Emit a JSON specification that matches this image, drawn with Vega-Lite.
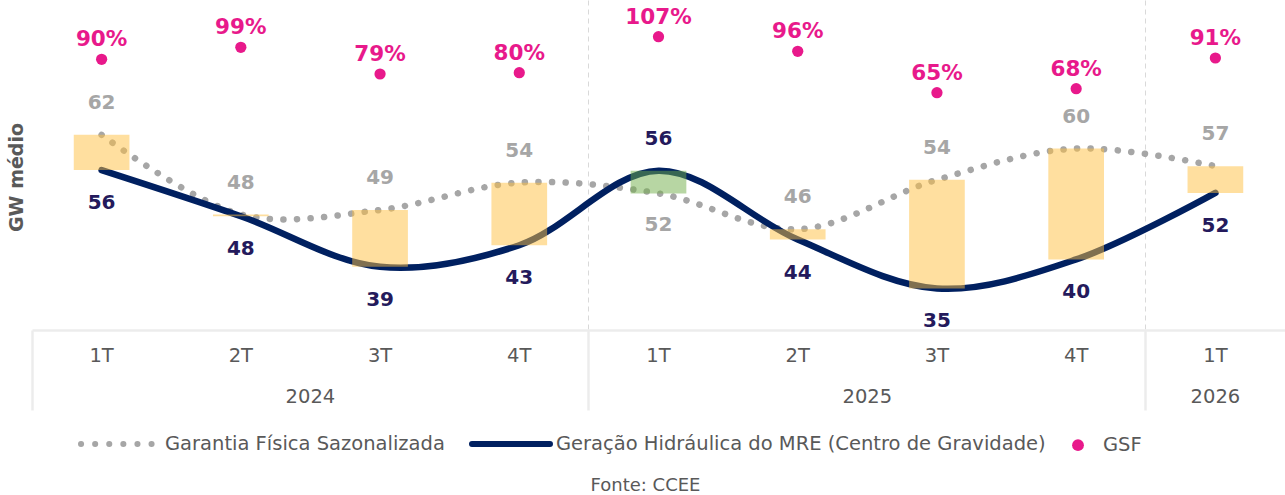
{
  "$schema": "https://vega.github.io/schema/vega-lite/v6.json",
  "width": 1253,
  "height": 330,
  "autosize": {"type": "none"},
  "padding": {"left": 32, "top": 0, "right": 0, "bottom": 165},
  "background": "white",
  "config": {"view": {"stroke": null}, "font": "DejaVu Sans"},
  "title": {"text": "Fonte: CCEE", "orient": "bottom", "anchor": "middle", "frame": "group", "offset": 21, "dx": -13, "font": "DejaVu Sans", "fontSize": 18, "fontWeight": "normal", "color": "#595959"},
  "data": {"values": [
    {"periodo": "2024-1T", "gf": 62.3, "ger": 56.1, "gsf": 0.90},
    {"periodo": "2024-2T", "gf": 48.3, "ger": 48.0, "gsf": 0.99},
    {"periodo": "2024-3T", "gf": 49.1, "ger": 39.1, "gsf": 0.79},
    {"periodo": "2024-4T", "gf": 53.9, "ger": 42.9, "gsf": 0.80},
    {"periodo": "2025-1T", "gf": 52.0, "ger": 56.0, "gsf": 1.07},
    {"periodo": "2025-2T", "gf": 45.7, "ger": 43.9, "gsf": 0.96},
    {"periodo": "2025-3T", "gf": 54.4, "ger": 35.3, "gsf": 0.65},
    {"periodo": "2025-4T", "gf": 59.9, "ger": 40.4, "gsf": 0.68},
    {"periodo": "2026-1T", "gf": 56.8, "ger": 52.1, "gsf": 0.91}
  ]},
  "resolve": {"scale": {"y": "independent"}, "axis": {"x": "independent"}},
  "layer": [
    {
      "layer": [
        {
          "mark": {"type": "line", "interpolate": "catmull-rom", "strokeWidth": 6.5, "strokeDash": [0.1, 13.5], "strokeCap": "round"},
          "encoding": {
            "x": {"field": "periodo", "type": "nominal", "scale": {"type": "band", "paddingInner": 0, "paddingOuter": 0},
              "axis": {"orient": "bottom", "title": null, "labelExpr": "split(datum.value, '-')[1]", "labelAngle": 0, "ticks": false, "tickSize": 0, "grid": false, "domain": true, "domainColor": "#ececec", "domainWidth": 2.5, "labelPadding": 16, "labelFontSize": 19.5, "labelColor": "#595959", "labelFont": "DejaVu Sans"}},
            "y": {"field": "gf", "type": "quantitative", "scale": {"domain": [28, 86], "nice": false, "zero": false},
              "axis": {"title": "GW médio", "titleFont": "DejaVu Sans", "titleFontSize": 19, "titleFontWeight": "bold", "titleColor": "#595959", "labels": false, "ticks": false, "domain": false, "grid": false, "titlePadding": 6, "minExtent": 0, "maxExtent": 0, "titleY": 177}},
            "color": {"datum": "gf", "type": "nominal",
              "scale": {"domain": ["gf", "ger", "gsf"], "range": ["#a6a6a6", "#002060", "#e8198b"]},
              "legend": {
                "orient": "none", "legendX": 48, "legendY": 434, "direction": "horizontal", "title": null, "padding": 0,
                "labelExpr": "datum.value === 'gf' ? 'Garantia Física Sazonalizada' : datum.value === 'ger' ? 'Geração Hidráulica do MRE (Centro de Gravidade)' : 'GSF'",
                "labelFont": "DejaVu Sans", "labelFontSize": 19.5, "labelColor": "#595959", "labelLimit": 800,
                "symbolType": "stroke", "symbolSize": 6084, "symbolStrokeWidth": 6, "labelOffset": 7, "columnPadding": 15,
                "encode": {
                  "symbols": {"update": {
                    "shape": {"signal": "datum.value === 'gsf' ? 'circle' : 'stroke'"},
                    "size": {"signal": "datum.value === 'gsf' ? 140 : 6084"},
                    "fill": {"signal": "datum.value === 'gsf' ? '#e8198b' : 'transparent'"},
                    "stroke": {"signal": "datum.value === 'gf' ? '#a6a6a6' : datum.value === 'ger' ? '#002060' : 'transparent'"},
                    "strokeWidth": {"signal": "datum.value === 'gsf' ? 0 : 6"},
                    "strokeDash": {"signal": "datum.value === 'gf' ? [0.1, 14] : [1, 0]"},
                    "strokeCap": {"value": "round"},
                    "opacity": {"value": 1},
                    "x": {"signal": "datum.value === 'gsf' ? 17 : 40"}
                  }},
                  "labels": {"update": {
                    "x": {"signal": "datum.value === 'gsf' ? 42 : 85"}
                  }}
                }
              }}
          }
        },
        {
          "mark": {"type": "line", "interpolate": "catmull-rom", "strokeWidth": 6.5, "strokeCap": "round"},
          "encoding": {
            "x": {"field": "periodo", "type": "nominal"},
            "y": {"field": "ger", "type": "quantitative", "scale": {"domain": [28, 86], "nice": false, "zero": false}},
            "color": {"datum": "ger", "type": "nominal"}
          }
        },
        {
          "mark": {"type": "bar", "width": {"band": 0.4}, "opacity": 0.5},
          "encoding": {
            "x": {"field": "periodo", "type": "nominal"},
            "y": {"field": "gf", "type": "quantitative", "scale": {"domain": [28, 86], "nice": false, "zero": false}},
            "y2": {"field": "ger"},
            "fill": {"condition": {"test": "datum.ger > datum.gf", "value": "#70ad47"}, "value": "#ffbf3f"}
          }
        },
        {
          "transform": [{"filter": "datum.ger <= datum.gf"}],
          "mark": {"type": "text", "dy": -32, "baseline": "middle", "fontSize": 20, "fontWeight": "bold", "color": "#a6a6a6", "font": "DejaVu Sans"},
          "encoding": {
            "x": {"field": "periodo", "type": "nominal"},
            "y": {"field": "gf", "type": "quantitative", "scale": {"domain": [28, 86], "nice": false, "zero": false}},
            "text": {"field": "gf", "type": "quantitative", "format": ".0f"}
          }
        },
        {
          "transform": [{"filter": "datum.ger > datum.gf"}],
          "mark": {"type": "text", "dy": 32, "baseline": "middle", "fontSize": 20, "fontWeight": "bold", "color": "#a6a6a6", "font": "DejaVu Sans"},
          "encoding": {
            "x": {"field": "periodo", "type": "nominal"},
            "y": {"field": "gf", "type": "quantitative", "scale": {"domain": [28, 86], "nice": false, "zero": false}},
            "text": {"field": "gf", "type": "quantitative", "format": ".0f"}
          }
        },
        {
          "transform": [{"filter": "datum.ger <= datum.gf"}],
          "mark": {"type": "text", "dy": 33, "baseline": "middle", "fontSize": 20, "fontWeight": "bold", "color": "#241a5c", "font": "DejaVu Sans"},
          "encoding": {
            "x": {"field": "periodo", "type": "nominal"},
            "y": {"field": "ger", "type": "quantitative", "scale": {"domain": [28, 86], "nice": false, "zero": false}},
            "text": {"field": "ger", "type": "quantitative", "format": ".0f"}
          }
        },
        {
          "transform": [{"filter": "datum.ger > datum.gf"}],
          "mark": {"type": "text", "dy": -32, "baseline": "middle", "fontSize": 20, "fontWeight": "bold", "color": "#241a5c", "font": "DejaVu Sans"},
          "encoding": {
            "x": {"field": "periodo", "type": "nominal"},
            "y": {"field": "ger", "type": "quantitative", "scale": {"domain": [28, 86], "nice": false, "zero": false}},
            "text": {"field": "ger", "type": "quantitative", "format": ".0f"}
          }
        }
      ]
    },
    {
      "layer": [
        {
          "mark": {"type": "point", "filled": true, "size": 126, "opacity": 1, "shape": "circle"},
          "encoding": {
            "x": {"field": "periodo", "type": "nominal",
              "axis": {"orient": "bottom", "title": null, "values": ["2024-1T", "2025-1T", "2026-1T"], "bandPosition": 0,
                "grid": true, "gridDash": [5, 4], "gridColor": "#d9d9d9", "gridWidth": 1,
                "gridOpacity": {"condition": {"test": "datum.value === '2024-1T'", "value": 0}, "value": 1},
                "ticks": true, "tickSize": 80, "tickColor": "#ececec", "tickWidth": 2.5,
                "domain": false, "labelExpr": "slice(datum.value, 0, 4)", "labelPadding": -23, "labelAngle": 0, "labelAlign": "center",
                "labelOffset": {"condition": {"test": "datum.value === '2026-1T'", "value": 0}, "value": 208.8},
                "labelFontSize": 19.5, "labelColor": "#595959", "labelFont": "DejaVu Sans"}},
            "y": {"field": "gsf", "type": "quantitative", "scale": {"domain": [-1.13, 1.345], "nice": false, "zero": false}, "axis": null},
            "color": {"datum": "gsf", "type": "nominal"}
          }
        },
        {
          "mark": {"type": "text", "dy": -19, "baseline": "middle", "fontSize": 21.5, "fontWeight": "bold", "color": "#e8198b", "font": "DejaVu Sans"},
          "encoding": {
            "x": {"field": "periodo", "type": "nominal"},
            "y": {"field": "gsf", "type": "quantitative", "scale": {"domain": [-1.13, 1.345], "nice": false, "zero": false}},
            "text": {"field": "gsf", "type": "quantitative", "format": ".0%"}
          }
        }
      ]
    }
  ]
}
